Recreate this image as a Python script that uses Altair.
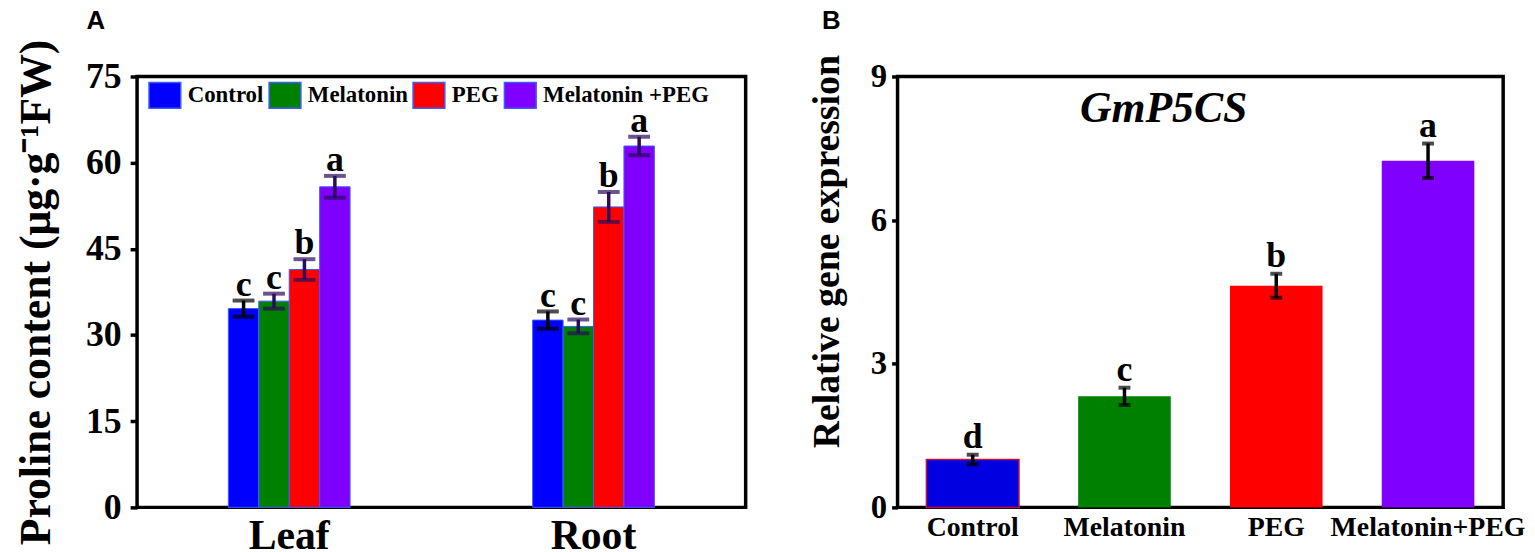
import altair as alt
import pandas as pd

SERIF = "Liberation Serif"
SANS = "Liberation Sans"

# ---------------- Panel A data ----------------
groups = ["Leaf", "Root"]
treatments = ["Control", "Melatonin", "PEG", "Melatonin +PEG"]
leaf_mean = [34.6, 35.9, 41.4, 55.8]
leaf_err = [1.4, 1.3, 1.8, 1.9]
root_mean = [32.6, 31.5, 52.3, 62.9]
root_err = [1.5, 1.2, 2.6, 1.6]
leaf_letters = ["c", "c", "b", "a"]
root_letters = ["c", "c", "b", "a"]
a_ticks = [0, 15, 30, 45, 60, 75]

# ---------------- Panel B data ----------------
gene_cats = ["Control", "Melatonin", "PEG", "Melatonin+PEG"]
gene_mean = [1.0, 2.32, 4.63, 7.24]
gene_err = [0.10, 0.18, 0.25, 0.36]
gene_letters = ["d", "c", "b", "a"]
b_ticks = [0, 3, 6, 9]
gene_name = ["GmP5CS"]

bar_colors_a = ["#0000ff", "#008000", "#ff0000", "#8000ff"]
err_colors_a = ["#000000", "#2a0c5c", "#2a0c5c", "#2a0c5c"]
bar_colors_b = ["#0000e0", "#008000", "#ff0000", "#8000ff"]

rows = []
for g, means, errs, lets in [("Leaf", leaf_mean, leaf_err, leaf_letters),
                             ("Root", root_mean, root_err, root_letters)]:
    for t, m, e, l in zip(treatments, means, errs, lets):
        rows.append({"group": g, "treatment": t, "mean": m,
                     "lo": m - e, "hi": m + e, "letter": l})
dfa = pd.DataFrame(rows)

dfb = pd.DataFrame({"cat": gene_cats, "mean": gene_mean,
                    "lo": [m - e for m, e in zip(gene_mean, gene_err)],
                    "hi": [m + e for m, e in zip(gene_mean, gene_err)],
                    "letter": gene_letters})

# ---------------- Panel A ----------------
xa = alt.X("group:N", sort=groups,
           scale=alt.Scale(paddingInner=0.6, paddingOuter=0.3),
           axis=alt.Axis(title=None, labelFont=SERIF, labelFontWeight="bold",
                         labelFontSize=42, labelColor="black", ticks=False,
                         domain=False, labelPadding=8, labelAngle=0))
xoa = alt.XOffset("treatment:N", sort=treatments,
                  scale=alt.Scale(paddingInner=0, paddingOuter=0))
ya_scale = alt.Scale(domain=[0, 75], nice=False)
ya_axis = alt.Axis(values=a_ticks, title="Proline content (μg·g⁻¹FW)",
                   titleFont=SERIF, titleFontWeight="bold", titleFontSize=44,
                   titleColor="black", titlePadding=27,
                   labelFont=SERIF, labelFontWeight="bold", labelFontSize=36,
                   labelColor="black", labelPadding=9, tickSize=7,
                   tickWidth=3.5, tickColor="black", grid=False, domain=False)

bars_a = alt.Chart(dfa).mark_bar(stroke="#3a5cff", strokeWidth=1).encode(
    x=xa, xOffset=xoa,
    y=alt.Y("mean:Q", scale=ya_scale, axis=ya_axis),
    color=alt.Color("treatment:N", sort=treatments,
                    scale=alt.Scale(domain=treatments, range=bar_colors_a),
                    legend=alt.Legend(title=None, orient="none", legendX=11, legendY=2,
                                      direction="horizontal", columns=4,
                                      symbolType="M-1,-0.8125H1V0.8125H-1Z",
                                      symbolSize=1024, symbolStrokeColor="#3a5cff",
                                      symbolStrokeWidth=1.5, symbolOpacity=1,
                                      labelFont=SERIF, labelFontSize=23,
                                      labelFontWeight="bold", labelColor="black",
                                      labelOffset=6, columnPadding=2, labelLimit=400,
                                      padding=0)),
)

err_color_a = alt.Color("treatment:N", sort=treatments,
                        scale=alt.Scale(domain=treatments, range=err_colors_a),
                        legend=None)
rule_a = alt.Chart(dfa).mark_rule(strokeWidth=3.5).encode(
    x=xa, xOffset=xoa, y=alt.Y("lo:Q", scale=ya_scale, axis=ya_axis), y2="hi:Q",
    color=err_color_a)
cap_lo_a = alt.Chart(dfa).mark_tick(orient="horizontal", size=22, thickness=4).encode(
    x=xa, xOffset=xoa, y=alt.Y("lo:Q", scale=ya_scale, axis=ya_axis), color=err_color_a)
cap_hi_a = alt.Chart(dfa).mark_tick(orient="horizontal", size=22, thickness=4).encode(
    x=xa, xOffset=xoa, y=alt.Y("hi:Q", scale=ya_scale, axis=ya_axis), color=err_color_a)
text_a = alt.Chart(dfa).mark_text(font=SERIF, fontWeight="bold", fontSize=36,
                                  baseline="alphabetic", dy=-5, color="black").encode(
    x=xa, xOffset=xoa, y=alt.Y("hi:Q", scale=ya_scale, axis=ya_axis), text="letter:N")

errs_a = alt.layer(rule_a, cap_lo_a, cap_hi_a)
panel_a = alt.layer(bars_a, errs_a, text_a).resolve_scale(color="independent").properties(
    width=613, height=434,
    title=alt.TitleParams("A", anchor="start", frame="group", dx=-51, font=SANS,
                          fontSize=26, fontWeight="bold", color="black", offset=5))

# ---------------- Panel B ----------------
xb = alt.X("cat:N", sort=gene_cats,
           scale=alt.Scale(paddingInner=0.39, paddingOuter=0.19),
           axis=alt.Axis(title=None, labelFont=SERIF, labelFontWeight="bold",
                         labelFontSize=28, labelColor="black", ticks=False,
                         domain=False, labelPadding=6, labelAngle=0, labelLimit=400))
yb_scale = alt.Scale(domain=[0, 9], nice=False)
yb_axis = alt.Axis(values=b_ticks, title="Relative gene expression",
                   titleFont=SERIF, titleFontWeight="bold", titleFontSize=38,
                   titleColor="black", titlePadding=24, titleY=176,
                   labelFont=SERIF, labelFontWeight="bold", labelFontSize=33,
                   labelColor="black", labelPadding=5, tickSize=6,
                   tickWidth=3.5, tickColor="black", grid=False, domain=False)

bars_b = alt.Chart(dfb).mark_bar(strokeWidth=1.5).encode(
    x=xb,
    y=alt.Y("mean:Q", scale=yb_scale, axis=yb_axis),
    color=alt.Color("cat:N", sort=gene_cats,
                    scale=alt.Scale(domain=gene_cats, range=bar_colors_b), legend=None),
    stroke=alt.condition(alt.datum.cat == "Control", alt.value("#c8102e"),
                         alt.value("transparent")),
)
rule_b = alt.Chart(dfb).mark_rule(strokeWidth=3.5, color="black").encode(
    x=xb, y=alt.Y("lo:Q", scale=yb_scale, axis=yb_axis), y2="hi:Q")
cap_lo_b = alt.Chart(dfb).mark_tick(orient="horizontal", size=12, thickness=4,
                                    color="black").encode(
    x=xb, y=alt.Y("lo:Q", scale=yb_scale, axis=yb_axis))
cap_hi_b = alt.Chart(dfb).mark_tick(orient="horizontal", size=12, thickness=4,
                                    color="black").encode(
    x=xb, y=alt.Y("hi:Q", scale=yb_scale, axis=yb_axis))
text_b = alt.Chart(dfb).mark_text(font=SERIF, fontWeight="bold", fontSize=36,
                                  baseline="alphabetic", dy=-7, color="black").encode(
    x=xb, y=alt.Y("hi:Q", scale=yb_scale, axis=yb_axis), text="letter:N")
gene_text = alt.Chart(pd.DataFrame({"name": gene_name})).mark_text(
    font=SERIF, fontWeight="bold", fontStyle="italic", fontSize=44,
    baseline="alphabetic", align="center", color="black").encode(
    x=alt.value(268), y=alt.value(46), text="name:N")

panel_b = alt.layer(bars_b, rule_b, cap_lo_b, cap_hi_b, text_b, gene_text).properties(
    width=610, height=434,
    title=alt.TitleParams("B", anchor="start", frame="group", dx=-76, font=SANS,
                          fontSize=26, fontWeight="bold", color="black", offset=21))

chart = alt.hconcat(panel_a, panel_b, spacing=153, bounds="flush").properties(
    padding={"left": 5, "top": -4, "right": 0, "bottom": 0}
).configure(background="white").configure_view(stroke="black", strokeWidth=3.5)

chart.save("out.html", embed_options={"renderer": "svg", "actions": False})
